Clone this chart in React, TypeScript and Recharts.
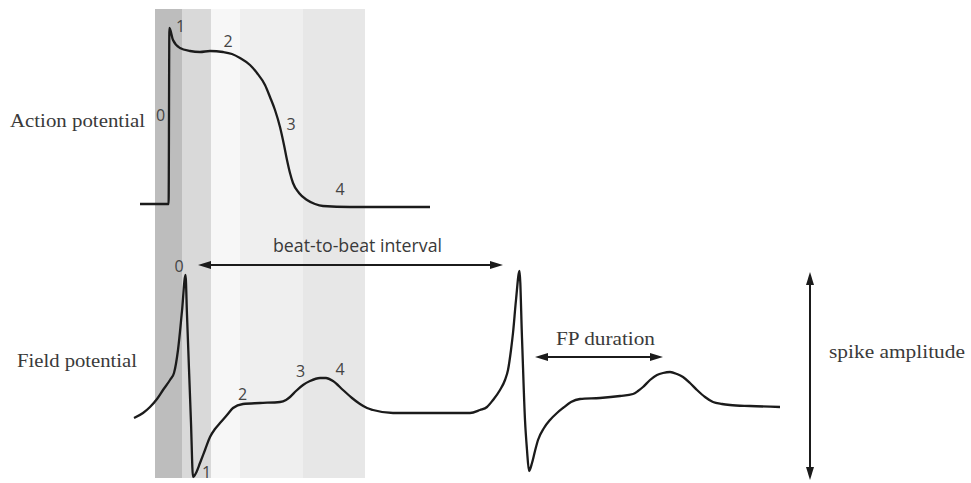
import React from 'react';
import {
  ComposedChart,
  Line,
  XAxis,
  YAxis,
  ReferenceArea,
  ReferenceLine,
  ReferenceDot,
} from 'recharts';

// ---- data (time in a.u., potential in a.u.) ----
const apTrace: [number, number][] = [
  [140, 279], [168.6, 279], [169.4, 455], [173, 443], [180, 435], [190, 432],
  [200, 431], [210, 432], [223, 431], [232, 429], [240, 425], [250, 418],
  [257, 410], [265, 398], [270, 386], [275, 373], [280, 356], [284, 338],
  [287, 323], [290, 310], [293, 300], [299, 290], [307, 283], [315, 279],
  [323, 277], [350, 276], [430, 276],
];

const fpTrace: [number, number][] = [
  [134, 65], [143, 70], [150, 76], [157, 84], [163, 93], [170, 103], [174, 110],
  [178, 133], [182, 172], [185.5, 208], [187, 168], [189, 114], [191, 60],
  [193, 6], [196, 10], [200, 20], [205, 33], [210, 46], [215, 54], [220, 60],
  [227, 68], [233, 75], [243, 79], [260, 80], [280, 81], [286, 83], [290, 86],
  [296, 92], [303, 98], [310, 102], [320, 105], [326, 105], [333, 102],
  [343, 93], [352, 85], [360, 79], [367, 75], [373, 73], [393, 70], [470, 70],
  [480, 73], [487, 76], [493, 83], [500, 93], [505, 103], [508, 113],
  [511, 133], [513, 150], [516, 183], [519.5, 212], [522, 145], [525, 63],
  [527, 33], [529, 12], [532, 20], [535, 32], [538, 43], [544, 55], [550, 63],
  [557, 70], [563, 75], [571, 81], [580, 84], [600, 85], [620, 87], [633, 89],
  [638, 92], [643, 96], [650, 103], [657, 108], [663, 110], [670, 111],
  [677, 109], [683, 106], [690, 100], [697, 93], [705, 86], [713, 81],
  [722, 79], [730, 78], [750, 77], [780, 76],
];

// phase bands: [start, end] in time units
const phaseBands: [number, number][] = [
  [155, 182], [182, 211], [211, 240], [240, 303], [303, 365],
];
const bandTop = 474;
const bandBottom = 5;

// arrows: [t1, v1, t2, v2]
const beatArrow = [198, 218, 503, 218];
const fpDurationArrow = [535, 126, 663, 126];
const amplitudeArrow = [810, 211, 810, 3];

// phase number labels: [text, t, v]
const apPhaseLabels: [string, number, number][] = [
  ['1', 180.5, 451], ['2', 228, 436], ['3', 291, 353], ['4', 340, 288], ['0', 160.5, 362],
];
const fpPhaseLabels: [string, number, number][] = [
  ['0', 179, 211], ['2', 242.5, 83], ['3', 300.5, 106], ['4', 340, 108], ['1', 206.5, 5],
];

// ---- styles ----
const bandFills = ['#bdbdbd', '#d9d9d9', '#f7f7f7', '#efefef', '#e7e7e7'];
const W = 971;
const H = 483;
const traceColor = '#1b1b1b';
const textColor = '#3a3a3a';
const serif = '"Liberation Serif", "DejaVu Serif", serif';
const sans = '"Open Sans", "Noto Sans", sans-serif';

const apData = apTrace.map(([t, v]) => ({ t, v }));
const fpData = fpTrace.map(([t, v]) => ({ t, v }));

const DoubleArrow = (props: any) => {
  const { x1, y1, x2, y2 } = props;
  const dx = x2 - x1;
  const dy = y2 - y1;
  const len = Math.hypot(dx, dy) || 1;
  const ux = dx / len;
  const uy = dy / len;
  const L = 13;
  const hw = 4;
  const head = (tx: number, ty: number, dirx: number, diry: number) => {
    const bx = tx - dirx * L;
    const by = ty - diry * L;
    const px = -diry * hw;
    const py = dirx * hw;
    return `${tx},${ty} ${bx + px},${by + py} ${bx - px},${by - py}`;
  };
  return (
    <g>
      <line
        x1={x1 + ux * (L - 2)}
        y1={y1 + uy * (L - 2)}
        x2={x2 - ux * (L - 2)}
        y2={y2 - uy * (L - 2)}
        stroke={traceColor}
        strokeWidth={2}
      />
      <polygon points={head(x1, y1, -ux, -uy)} fill={traceColor} />
      <polygon points={head(x2, y2, ux, uy)} fill={traceColor} />
    </g>
  );
};

const makeText =
  (text: string, opts: { anchor?: string; size: number; family: string; length?: number; color?: string }) =>
  (p: any) => (
    <text
      x={p.cx}
      y={p.cy}
      textAnchor={opts.anchor || 'middle'}
      fontSize={opts.size}
      fontFamily={opts.family}
      fill={opts.color || textColor}
      textLength={opts.length}
      lengthAdjust={opts.length ? 'spacingAndGlyphs' : undefined}
    >
      {text}
    </text>
  );

// titles: [text, t, v(baseline), width]
const titles: [string, number, number, number][] = [
  ['Action potential', 10, 356, 135],
  ['Field potential', 17, 116, 120],
  ['FP duration', 556, 138, 99],
  ['spike amplitude', 829, 125, 136],
];

export default function App() {
  return (
    <div style={{ position: 'absolute', left: 0, top: 0, width: W, height: H, background: '#fff' }}>
      <ComposedChart width={W} height={H} margin={{ top: 0, right: 0, bottom: 0, left: 0 }}>
        <XAxis type="number" dataKey="t" domain={[0, W]} hide allowDataOverflow />
        <YAxis type="number" dataKey="v" domain={[0, H]} hide allowDataOverflow />
        {phaseBands.map(([a, b], i) => (
          <ReferenceArea
            key={`band${i}`}
            x1={a}
            x2={b}
            y1={bandBottom}
            y2={bandTop}
            fill={bandFills[i]}
            fillOpacity={1}
            stroke="none"
            ifOverflow="visible"
          />
        ))}
        <Line
          data={apData}
          dataKey="v"
          type="monotone"
          dot={false}
          activeDot={false}
          stroke={traceColor}
          strokeWidth={2.3}
          isAnimationActive={false}
        />
        <Line
          data={fpData}
          dataKey="v"
          type="monotone"
          dot={false}
          activeDot={false}
          stroke={traceColor}
          strokeWidth={2.3}
          isAnimationActive={false}
        />
        {[beatArrow, fpDurationArrow, amplitudeArrow].map((a, i) => (
          <ReferenceLine
            key={`arrow${i}`}
            segment={[{ x: a[0], y: a[1] }, { x: a[2], y: a[3] }]}
            shape={DoubleArrow}
            ifOverflow="visible"
          />
        ))}
        {[...apPhaseLabels, ...fpPhaseLabels].map(([txt, t, v], i) => (
          <ReferenceDot
            key={`ph${i}`}
            x={t}
            y={v}
            r={0}
            ifOverflow="visible"
            shape={makeText(txt, { size: 16, family: sans, color: '#444' })}
          />
        ))}
        {titles.map(([txt, t, v, w], i) => (
          <ReferenceDot
            key={`ti${i}`}
            x={t}
            y={v}
            r={0}
            ifOverflow="visible"
            shape={makeText(txt, { anchor: 'start', size: 19, family: serif, length: w })}
          />
        ))}
        <ReferenceDot
          x={273}
          y={231}
          r={0}
          ifOverflow="visible"
          shape={makeText('beat-to-beat interval', { anchor: 'start', size: 18, family: sans, length: 169 })}
        />
      </ComposedChart>
    </div>
  );
}
